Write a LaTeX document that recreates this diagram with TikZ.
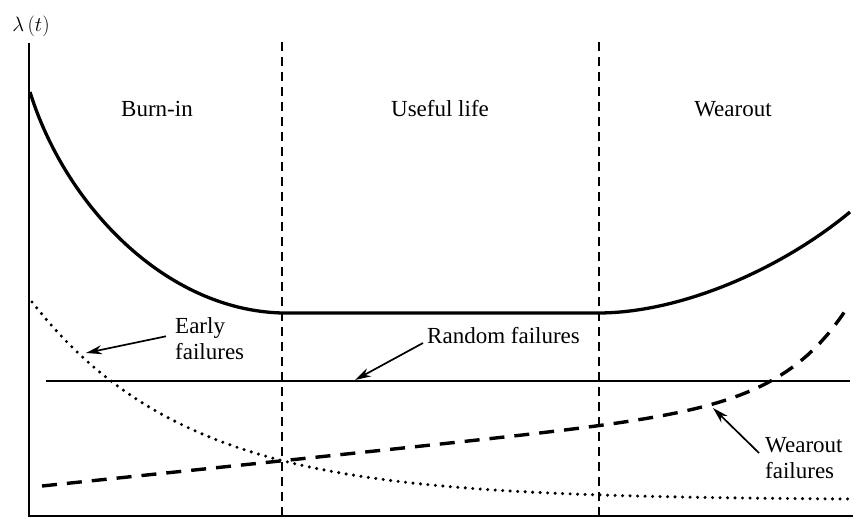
\documentclass[tikz,border=0pt]{standalone}
\usepackage{fontspec}
\setmainfont{Liberation Serif}
\usetikzlibrary{arrows.meta}
\begin{document}
\begin{tikzpicture}[x=1pt,y=-1pt,
  lbl/.style={font=\fontsize{23}{26}\selectfont, inner sep=0pt},
  axisline/.style={line width=2pt},
  phase/.style={line width=1.7pt, dash pattern=on 9pt off 6pt},
  total/.style={line width=3.3pt},
  earlyc/.style={line width=3.4pt, dash pattern=on 0pt off 7.5pt, line cap=round},
  wearc/.style={line width=3.4pt, dash pattern=on 15pt off 10pt},
  randc/.style={line width=1.9pt},
  pointer/.style={line width=1.7pt, -{Stealth[length=16pt,width=9pt]}}
]
\useasboundingbox (0,0) rectangle (865,519);

% axes
\coordinate (ytop) at (29,43);
\coordinate (O) at (29,516);
\coordinate (xend) at (853,516);
\draw[axisline] (ytop) -- (O) -- (xend);
\node[font=\fontsize{22}{24}\selectfont, inner sep=0pt] (lambda) at (31,26) {$\lambda\,(t)$};

% phase boundaries
\coordinate (p1t) at (282,42);
\coordinate (p1b) at (282,516);
\coordinate (p2t) at (599,42);
\coordinate (p2b) at (599,516);
\draw[phase] (p1t) -- (p1b);
\draw[phase] (p2t) -- (p2b);

% phase labels
\node[lbl, anchor=base] (burnin) at (157,116) {Burn-in};
\node[lbl, anchor=base] (useful) at (440,117) {Useful life};
\node[lbl, anchor=base] (wearout) at (733,116) {Wearout};

% bathtub curve
\draw[total] (30,92) .. controls (65,205) and (165,310) .. (282,313)
  -- (598,313) .. controls (680,313) and (780,270) .. (850,212);

% random failures
\coordinate (r1) at (46,381);
\coordinate (r2) at (850,381);
\draw[randc] (r1) -- (r2);

% early failures (dotted)
\draw[earlyc] plot[domain=32:855, samples=120] (\x, {500-198*exp(-0.00645*(\x-32))});

% wearout failures (dashed)
\draw[wearc] plot[domain=42:848, samples=120] (\x, {486-0.105*(\x-42)-93.5*exp(0.0156*(\x-847))});

% annotation labels
\node[lbl, align=left, anchor=north west] (early) at (175,317) {Early\\failures};
\node[lbl, anchor=base west] (random) at (427,343) {Random failures};
\node[lbl, align=left, anchor=north west] (wearf) at (765,437) {Wearout\\failures};

% pointers
\coordinate (eTip) at (86,353);
\coordinate (rTip) at (355,380);
\coordinate (wTip) at (713,408);
\draw[pointer] ([xshift=-9pt,yshift=2pt]early.west) -- (eTip);
\draw[pointer] ([xshift=-4pt]random.base west) -- (rTip);
\draw[pointer] ([xshift=-6pt,yshift=-16pt]wearf.north west) -- (wTip);
\end{tikzpicture}
\end{document}
